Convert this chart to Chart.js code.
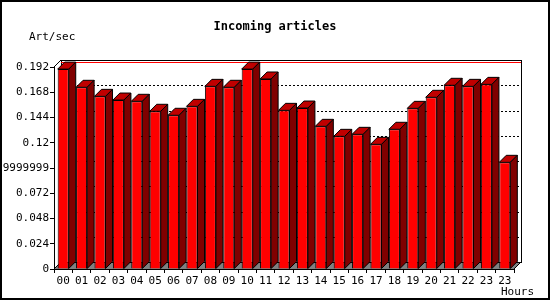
<!DOCTYPE html>
<html>
<head>
<meta charset="utf-8">
<script src="https://cdn.jsdelivr.net/npm/chart.js@4.4.0/dist/chart.umd.min.js"></script>
<style>
  html, body { margin: 0; padding: 0; background: #fff; }
  #wrap { width: 550px; height: 300px; position: relative; }
</style>
</head>
<body>
<div id="wrap"><canvas id="chart"></canvas></div>
<script>
// Chart texts
const TITLE = 'Incoming articles';
const Y_UNIT = 'Art/sec';
const X_UNIT = 'Hours';

// Data
const hours = ['00', '01', '02', '03', '04', '05', '06', '07', '08', '09', '10', '11',
  '12', '13', '14', '15', '16', '17', '18', '19', '20', '21', '22', '23', '23'];
const artPerSec = [0.190, 0.1727, 0.1641, 0.1606, 0.1594, 0.1499, 0.1461, 0.1546,
  0.1736, 0.1727, 0.190, 0.1806, 0.1508, 0.1530, 0.1356, 0.1261, 0.1280, 0.1185,
  0.1328, 0.1527, 0.1632, 0.1746, 0.1736, 0.1755, 0.1014];
const yTicks = [0, 0.024, 0.048, 0.072, 0.096, 0.12, 0.144, 0.168, 0.192];
const yTickLabels = ['0', '0.024', '0.048', '0.072', '0.09599999999999', '0.12', '0.144', '0.168', '0.192'];
const peakValue = Math.max(...artPerSec);

const DEPTH = 7;
const MONO = '"DejaVu Sans Mono", "Liberation Mono", monospace';

// Fake 3D: back wall, floor, grid, bar tops and sides
const threeD = {
  id: 'threeD',
  beforeDatasetsDraw(chart) {
    const { ctx, chartArea: a, scales: { y } } = chart;
    const D = DEPTH;
    ctx.save();
    // floor
    ctx.fillStyle = '#808080';
    ctx.beginPath();
    ctx.moveTo(a.left, a.bottom);
    ctx.lineTo(a.left + D, a.bottom - D);
    ctx.lineTo(a.right + D, a.bottom - D);
    ctx.lineTo(a.right, a.bottom);
    ctx.closePath();
    ctx.fill();
    // dotted grid on the back wall
    ctx.strokeStyle = '#000';
    ctx.lineWidth = 1;
    ctx.setLineDash([2, 2]);
    yTicks.forEach(v => {
      if (v === 0) return;
      const py = Math.round(y.getPixelForValue(v)) - D + 0.5;
      ctx.beginPath();
      ctx.moveTo(a.left + D, py);
      ctx.lineTo(a.right + D, py);
      ctx.stroke();
    });
    ctx.setLineDash([]);
    // back wall frame
    ctx.strokeRect(Math.round(a.left + D) + 0.5, Math.round(a.top - D) + 0.5,
      Math.round(a.right - a.left), Math.round(a.bottom - a.top));
    ctx.beginPath();
    ctx.moveTo(a.left, a.top);
    ctx.lineTo(a.left + D, a.top - D);
    ctx.moveTo(a.left, a.bottom);
    ctx.lineTo(a.left + D, a.bottom - D);
    ctx.moveTo(a.right, a.bottom);
    ctx.lineTo(a.right + D, a.bottom - D);
    ctx.stroke();
    // peak line
    const pk = Math.round(y.getPixelForValue(peakValue)) - D + 0.5;
    ctx.strokeStyle = '#ff0000';
    ctx.beginPath();
    ctx.moveTo(a.left + D, pk);
    ctx.lineTo(a.right + D, pk);
    ctx.stroke();
    ctx.restore();
  },
  afterDatasetsDraw(chart) {
    const { ctx } = chart;
    const D = DEPTH;
    ctx.save();
    ctx.strokeStyle = '#000';
    ctx.lineWidth = 1;
    chart.getDatasetMeta(0).data.forEach(bar => {
      const l = bar.x - bar.width / 2;
      const r = bar.x + bar.width / 2;
      const t = bar.y;
      const b = bar.base;
      // top
      ctx.fillStyle = '#c00000';
      ctx.beginPath();
      ctx.moveTo(l, t);
      ctx.lineTo(l + D, t - D);
      ctx.lineTo(r + D, t - D);
      ctx.lineTo(r, t);
      ctx.closePath();
      ctx.fill();
      ctx.stroke();
      // side
      ctx.fillStyle = '#800000';
      ctx.beginPath();
      ctx.moveTo(r, t);
      ctx.lineTo(r + D, t - D);
      ctx.lineTo(r + D, b - D);
      ctx.lineTo(r, b);
      ctx.closePath();
      ctx.fill();
      ctx.stroke();
    });
    ctx.restore();
  },
  afterDraw(chart) {
    const { ctx, width, height } = chart;
    ctx.save();
    ctx.fillStyle = '#000';
    ctx.textBaseline = 'middle';
    ctx.font = 'bold 12px ' + MONO;
    ctx.textAlign = 'center';
    ctx.fillText(TITLE, 275, 27);
    ctx.font = '11px ' + MONO;
    ctx.textAlign = 'left';
    ctx.fillText(Y_UNIT, 29, 37);
    ctx.textAlign = 'right';
    ctx.fillText(X_UNIT, 534, 292);
    ctx.strokeStyle = '#000';
    ctx.lineWidth = 2;
    ctx.strokeRect(1, 1, width - 2, height - 2);
    ctx.restore();
  }
};

new Chart(document.getElementById('chart'), {
  type: 'bar',
  data: {
    labels: hours,
    datasets: [{
      data: artPerSec,
      backgroundColor: '#ff0000',
      borderColor: '#000',
      borderWidth: 1,
      barPercentage: 0.6,
      categoryPercentage: 1.0
    }]
  },
  options: {
    responsive: true,
    maintainAspectRatio: false,
    animation: false,
    layout: { padding: { top: 67, right: 36, bottom: 0, left: 0 } },
    plugins: {
      legend: { display: false },
      tooltip: { enabled: false }
    },
    scales: {
      x: {
        afterFit(scale) { scale.height = 31; },
        grid: { drawOnChartArea: false, drawTicks: true, tickLength: 4, color: '#000' },
        border: { display: true, color: '#000' },
        ticks: {
          color: '#000', autoSkip: false, maxRotation: 0, padding: 2,
          font: { family: MONO, size: 11 }
        }
      },
      y: {
        min: 0,
        max: 0.192,
        afterFit(scale) { scale.width = 54; },
        afterBuildTicks(scale) { scale.ticks = yTicks.map(v => ({ value: v })); },
        grid: { drawOnChartArea: false, drawTicks: true, tickLength: 4, color: '#000' },
        border: { display: true, color: '#000' },
        ticks: {
          color: '#000', padding: 1,
          font: { family: MONO, size: 11 },
          callback: (v, i) => yTickLabels[i]
        }
      }
    }
  },
  plugins: [threeD]
});
</script>
</body>
</html>
